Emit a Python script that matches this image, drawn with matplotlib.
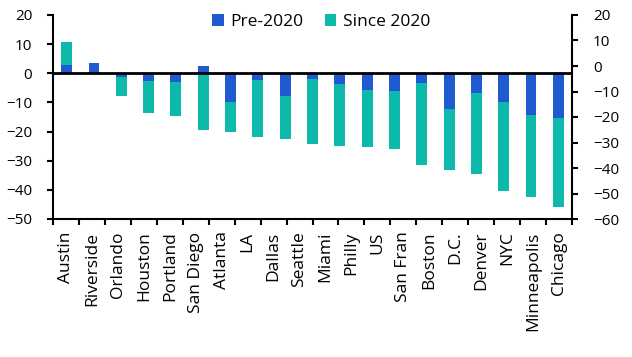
import matplotlib.pyplot as plt
import numpy as np

plt.rcParams['font.family'] = ['Open Sans', 'DejaVu Sans']
plt.rcParams['axes.unicode_minus'] = True

# category labels on the axis (20) - the chart only carries 19 bars
labels = ["Austin", "Riverside", "Orlando", "Houston", "Portland", "San Diego",
          "Atlanta", "LA", "Dallas", "Seattle", "Miami", "Philly", "US",
          "San Fran", "Boston", "D.C.", "Denver", "NYC", "Minneapolis", "Chicago"]

pre_2020 = [2.9, 3.7, -1.2, -2.6, -2.9, 2.6, -9.7, -2.2, -7.7, -1.9,
            -3.6, -5.6, -6.0, -3.2, -12.1, -6.7, -9.7, -14.2, -15.2]
since_2020 = [7.8, 0.0, -6.5, -10.9, -11.9, -19.6, -10.6, -19.5, -14.7, -22.5,
              -21.5, -19.8, -20.1, -28.4, -21.2, -27.9, -30.7, -28.3, -30.7]

c_pre = "#1f5ad1"
c_since = "#0db9ab"

pre = np.array(pre_2020)
since = np.array(since_2020)
# excel-style stacking: same-sign values stack on top of pre, else from zero
bottom = np.where(np.sign(pre) == np.sign(since), pre, 0.0)

fig = plt.figure(figsize=(6.32, 3.57), dpi=100)
ax = fig.add_axes([53/632, 1 - 219/357, (572 - 53)/632, (219 - 15)/357])

# category axis with 20 labels
n = len(labels)
ax.set_xlim(-0.5, n - 0.5)
ax.set_xticks(range(n))
ax.set_xticklabels(labels, rotation=90, fontsize=12.5)
ax.set_xticks(np.arange(-0.5, n), minor=True)
ax.tick_params(axis="x", which="major", length=0, pad=9)
ax.tick_params(axis="x", which="minor", length=4, width=1.5, direction="out")
ax.set_ylim(-50, 20)
ax.set_yticks(range(-50, 21, 10))
ax.tick_params(axis="y", length=4, width=1.5, direction="out", labelsize=11, pad=11)
for s in ["top", "right"]:
    ax.spines[s].set_visible(False)
for s in ["left", "bottom"]:
    ax.spines[s].set_linewidth(1.5)

# bars live on their own 19-slot x axis
axb = ax.twiny()
axb.set_xlim(-0.5, len(pre) - 0.5)
axb.set_xticks([])
for s in axb.spines.values():
    s.set_visible(False)
x = np.arange(len(pre))
axb.bar(x, pre, width=0.4, color=c_pre, label="Pre-2020", zorder=2)
axb.bar(x, since, width=0.4, bottom=bottom, color=c_since, label="Since 2020", zorder=2)
axb.axhline(0, color="black", lw=2, zorder=3)

# right axis
ax2 = ax.twinx()
ax2.set_ylim(-60, 20)
ax2.set_yticks(range(-60, 21, 10))
ax2.tick_params(axis="y", length=4, width=1.5, direction="out", labelsize=11, pad=11)
for s in ["top", "left", "bottom"]:
    ax2.spines[s].set_visible(False)
ax2.spines["right"].set_linewidth(1.5)

axb.legend(loc="upper center", bbox_to_anchor=(0.517, 1.08), ncol=2, frameon=False,
           fontsize=12.5, handlelength=0.65, handleheight=0.65, handletextpad=0.4,
           columnspacing=1.2)

fig.savefig("out.png", dpi=100)
